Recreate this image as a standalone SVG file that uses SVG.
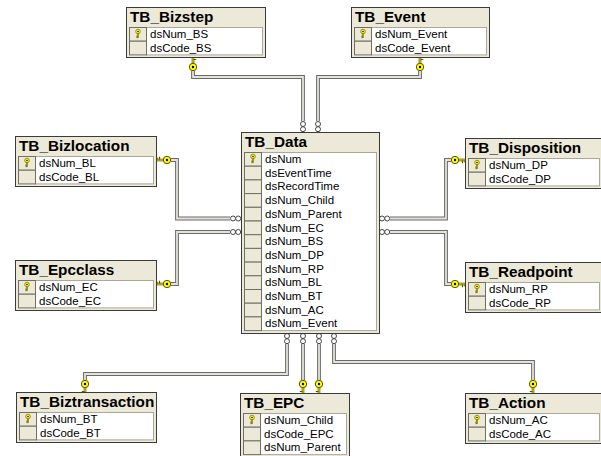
<svg xmlns="http://www.w3.org/2000/svg" xmlns:xlink="http://www.w3.org/1999/xlink" width="601" height="456" viewBox="0 0 601 456">
<style>
.box{fill:#ece9d8;stroke:#3a3a3a;stroke-width:1}
.t{font:bold 15.3px "Liberation Sans",Arial,sans-serif;fill:#000}
.f{font:11.5px "Liberation Sans",Arial,sans-serif;fill:#000}
.grid{fill:#fff;stroke:#aca899;stroke-width:1}
.cell{fill:#ece9d8;stroke:#716f64;stroke-width:1}
.lo{fill:none;stroke:#6a6a6a;stroke-width:3.8}
.li{fill:none;stroke:#e4e2da;stroke-width:1.8}
.cf{fill:#fff;stroke:#333;stroke-width:0.9}
</style>
<defs>
<g id="key">
<line x1="2" y1="0" x2="10.5" y2="0" stroke="#5c5200" stroke-width="2.6"/>
<line x1="2" y1="0" x2="10.5" y2="0" stroke="#ffff00" stroke-width="1"/>
<path d="M7.5 0.5V3.2M10 0.5V2.6" stroke="#5c5200" stroke-width="1.2"/>
<circle r="3.7" fill="#ffff00" stroke="#5c5200" stroke-width="1"/>
<circle r="1.2" fill="#000"/>
</g>
<g id="pk"><use xlink:href="#key" transform="rotate(90) scale(0.62)"/></g>
<clipPath id="cbt"><rect x="0" y="0" width="138" height="60"/></clipPath>
</defs>

<g id="connectors">
<path class="lo" d="M193 71V77H303V121"/><path class="li" d="M193 71V77H303V121"/>
<path class="lo" d="M420 71V77H318V121"/><path class="li" d="M420 71V77H318V121"/>
<path class="lo" d="M171 160H177V218.5H230"/><path class="li" d="M171 160H177V218.5H230"/>
<path class="lo" d="M171 284H177V232H230"/><path class="li" d="M171 284H177V232H230"/>
<path class="lo" d="M451 160H446V218.5H390"/><path class="li" d="M451 160H446V218.5H390"/>
<path class="lo" d="M451 284H446V232H390"/><path class="li" d="M451 284H446V232H390"/>
<path class="lo" d="M287 344V374H85V380"/><path class="li" d="M287 344V374H85V380"/>
<path class="lo" d="M303 344V380"/><path class="li" d="M303 344V380"/>
<path class="lo" d="M319 344V380"/><path class="li" d="M319 344V380"/>
<path class="lo" d="M334 344V362H533V380"/><path class="li" d="M334 344V362H533V380"/>
<circle class="cf" cx="303" cy="124" r="2.5"/><circle class="cf" cx="303" cy="129.2" r="2.5"/>
<circle class="cf" cx="318" cy="124" r="2.5"/><circle class="cf" cx="318" cy="129.2" r="2.5"/>
<circle class="cf" cx="233" cy="218.5" r="2.5"/><circle class="cf" cx="238.2" cy="218.5" r="2.5"/>
<circle class="cf" cx="233" cy="232" r="2.5"/><circle class="cf" cx="238.2" cy="232" r="2.5"/>
<circle class="cf" cx="382" cy="218.5" r="2.5"/><circle class="cf" cx="387.2" cy="218.5" r="2.5"/>
<circle class="cf" cx="382" cy="232" r="2.5"/><circle class="cf" cx="387.2" cy="232" r="2.5"/>
<circle class="cf" cx="287" cy="336" r="2.5"/><circle class="cf" cx="287" cy="341.2" r="2.5"/>
<circle class="cf" cx="303" cy="336" r="2.5"/><circle class="cf" cx="303" cy="341.2" r="2.5"/>
<circle class="cf" cx="319" cy="336" r="2.5"/><circle class="cf" cx="319" cy="341.2" r="2.5"/>
<circle class="cf" cx="334" cy="336" r="2.5"/><circle class="cf" cx="334" cy="341.2" r="2.5"/>
<use xlink:href="#key" transform="translate(193,67) rotate(-90)"/>
<use xlink:href="#key" transform="translate(420,67) rotate(-90)"/>
<use xlink:href="#key" transform="translate(167,160) rotate(180)"/>
<use xlink:href="#key" transform="translate(167,284) rotate(180)"/>
<use xlink:href="#key" transform="translate(455,160)"/>
<use xlink:href="#key" transform="translate(455,284)"/>
<use xlink:href="#key" transform="translate(85,384) rotate(90)"/>
<use xlink:href="#key" transform="translate(303,384) rotate(90)"/>
<use xlink:href="#key" transform="translate(319,384) rotate(90)"/>
<use xlink:href="#key" transform="translate(533,384) rotate(90)"/>
</g>

<g id="TB_Bizstep" transform="translate(126,7)">
<rect class="box" x="0.5" y="0.5" width="139" height="50"/>
<text class="t" x="4" y="15">TB_Bizstep</text>
<rect class="grid" x="20.5" y="20.5" width="116" height="27.4"/>
<rect class="cell" x="3.5" y="20.5" width="17" height="13.7"/><rect class="cell" x="3.5" y="34.2" width="17" height="13.7"/>
<use xlink:href="#pk" transform="translate(12,24.5)"/>
<text class="f" x="24" y="31">dsNum_BS</text><text class="f" x="24" y="44.7">dsCode_BS</text>
</g>

<g id="TB_Event" transform="translate(351,7)">
<rect class="box" x="0.5" y="0.5" width="138" height="50"/>
<text class="t" x="4" y="15">TB_Event</text>
<rect class="grid" x="20.5" y="20.5" width="115" height="27.4"/>
<rect class="cell" x="3.5" y="20.5" width="17" height="13.7"/><rect class="cell" x="3.5" y="34.2" width="17" height="13.7"/>
<use xlink:href="#pk" transform="translate(12,24.5)"/>
<text class="f" x="24" y="31">dsNum_Event</text><text class="f" x="24" y="44.7">dsCode_Event</text>
</g>

<g id="TB_Bizlocation" transform="translate(15,136)">
<rect class="box" x="0.5" y="0.5" width="141" height="50"/>
<text class="t" x="4" y="15">TB_Bizlocation</text>
<rect class="grid" x="20.5" y="20.5" width="118" height="27.4"/>
<rect class="cell" x="3.5" y="20.5" width="17" height="13.7"/><rect class="cell" x="3.5" y="34.2" width="17" height="13.7"/>
<use xlink:href="#pk" transform="translate(12,24.5)"/>
<text class="f" x="24" y="31">dsNum_BL</text><text class="f" x="24" y="44.7">dsCode_BL</text>
</g>

<g id="TB_Epcclass" transform="translate(15,260)">
<rect class="box" x="0.5" y="0.5" width="141" height="50"/>
<text class="t" x="4" y="15">TB_Epcclass</text>
<rect class="grid" x="20.5" y="20.5" width="118" height="27.4"/>
<rect class="cell" x="3.5" y="20.5" width="17" height="13.7"/><rect class="cell" x="3.5" y="34.2" width="17" height="13.7"/>
<use xlink:href="#pk" transform="translate(12,24.5)"/>
<text class="f" x="24" y="31">dsNum_EC</text><text class="f" x="24" y="44.7">dsCode_EC</text>
</g>

<g id="TB_Disposition" transform="translate(465,138)">
<rect class="box" x="0.5" y="0.5" width="137" height="50"/>
<text class="t" x="4" y="15">TB_Disposition</text>
<rect class="grid" x="20.5" y="20.5" width="114" height="27.4"/>
<rect class="cell" x="3.5" y="20.5" width="17" height="13.7"/><rect class="cell" x="3.5" y="34.2" width="17" height="13.7"/>
<use xlink:href="#pk" transform="translate(12,24.5)"/>
<text class="f" x="24" y="31">dsNum_DP</text><text class="f" x="24" y="44.7">dsCode_DP</text>
</g>

<g id="TB_Readpoint" transform="translate(465,262)">
<rect class="box" x="0.5" y="0.5" width="137" height="50"/>
<text class="t" x="4" y="15">TB_Readpoint</text>
<rect class="grid" x="20.5" y="20.5" width="114" height="27.4"/>
<rect class="cell" x="3.5" y="20.5" width="17" height="13.7"/><rect class="cell" x="3.5" y="34.2" width="17" height="13.7"/>
<use xlink:href="#pk" transform="translate(12,24.5)"/>
<text class="f" x="24" y="31">dsNum_RP</text><text class="f" x="24" y="44.7">dsCode_RP</text>
</g>

<g id="TB_Biztransaction" transform="translate(16,392)">
<rect class="box" x="0.5" y="0.5" width="140" height="50"/>
<text class="t" x="4" y="15" clip-path="url(#cbt)">TB_Biztransaction</text>
<rect class="grid" x="20.5" y="20.5" width="117" height="27.4"/>
<rect class="cell" x="3.5" y="20.5" width="17" height="13.7"/><rect class="cell" x="3.5" y="34.2" width="17" height="13.7"/>
<use xlink:href="#pk" transform="translate(12,24.5)"/>
<text class="f" x="24" y="31">dsNum_BT</text><text class="f" x="24" y="44.7">dsCode_BT</text>
</g>

<g id="TB_Action" transform="translate(465,393)">
<rect class="box" x="0.5" y="0.5" width="137" height="50"/>
<text class="t" x="4" y="15">TB_Action</text>
<rect class="grid" x="20.5" y="20.5" width="114" height="27.4"/>
<rect class="cell" x="3.5" y="20.5" width="17" height="13.7"/><rect class="cell" x="3.5" y="34.2" width="17" height="13.7"/>
<use xlink:href="#pk" transform="translate(12,24.5)"/>
<text class="f" x="24" y="31">dsNum_AC</text><text class="f" x="24" y="44.7">dsCode_AC</text>
</g>

<g id="TB_EPC" transform="translate(240,393)">
<rect class="box" x="0.5" y="0.5" width="109" height="64"/>
<text class="t" x="4" y="15">TB_EPC</text>
<rect class="grid" x="20.5" y="20.5" width="86" height="41.1"/>
<rect class="cell" x="3.5" y="20.5" width="17" height="13.7"/><rect class="cell" x="3.5" y="34.2" width="17" height="13.7"/><rect class="cell" x="3.5" y="47.9" width="17" height="13.7"/>
<use xlink:href="#pk" transform="translate(12,24.5)"/>
<text class="f" x="24" y="31">dsNum_Child</text><text class="f" x="24" y="44.7">dsCode_EPC</text><text class="f" x="24" y="58.4">dsNum_Parent</text>
</g>

<g id="TB_Data" transform="translate(241,132)">
<rect class="box" x="0.5" y="0.5" width="138" height="201"/>
<text class="t" x="4" y="15">TB_Data</text>
<rect class="grid" x="20.5" y="20.5" width="115" height="178.1"/>
<rect class="cell" x="3.5" y="20.5" width="17" height="13.7"/>
<rect class="cell" x="3.5" y="34.2" width="17" height="13.7"/>
<rect class="cell" x="3.5" y="47.9" width="17" height="13.7"/>
<rect class="cell" x="3.5" y="61.6" width="17" height="13.7"/>
<rect class="cell" x="3.5" y="75.3" width="17" height="13.7"/>
<rect class="cell" x="3.5" y="89" width="17" height="13.7"/>
<rect class="cell" x="3.5" y="102.7" width="17" height="13.7"/>
<rect class="cell" x="3.5" y="116.4" width="17" height="13.7"/>
<rect class="cell" x="3.5" y="130.1" width="17" height="13.7"/>
<rect class="cell" x="3.5" y="143.8" width="17" height="13.7"/>
<rect class="cell" x="3.5" y="157.5" width="17" height="13.7"/>
<rect class="cell" x="3.5" y="171.2" width="17" height="13.7"/>
<rect class="cell" x="3.5" y="184.9" width="17" height="13.7"/>
<use xlink:href="#pk" transform="translate(12,24.5)"/>
<text class="f" x="24" y="31">dsNum</text>
<text class="f" x="24" y="44.7">dsEventTime</text>
<text class="f" x="24" y="58.4">dsRecordTime</text>
<text class="f" x="24" y="72.1">dsNum_Child</text>
<text class="f" x="24" y="85.8">dsNum_Parent</text>
<text class="f" x="24" y="99.5">dsNum_EC</text>
<text class="f" x="24" y="113.2">dsNum_BS</text>
<text class="f" x="24" y="126.9">dsNum_DP</text>
<text class="f" x="24" y="140.6">dsNum_RP</text>
<text class="f" x="24" y="154.3">dsNum_BL</text>
<text class="f" x="24" y="168">dsNum_BT</text>
<text class="f" x="24" y="181.7">dsNum_AC</text>
<text class="f" x="24" y="195.4">dsNum_Event</text>
</g>
</svg>
